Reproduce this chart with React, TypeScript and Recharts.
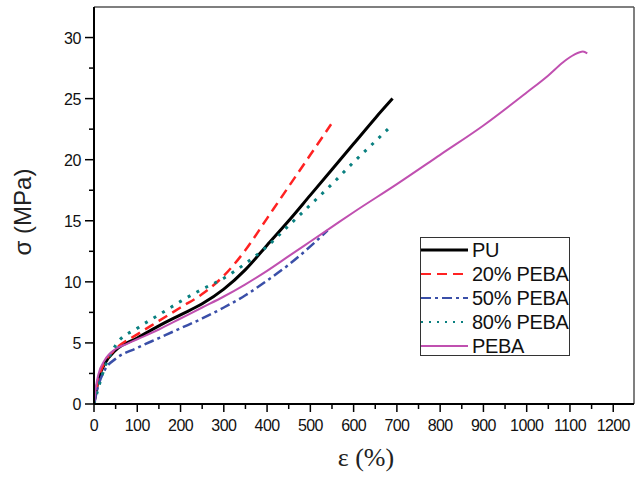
import { LineChart, Line, XAxis, YAxis, Legend, ReferenceLine } from 'recharts';

// stress-strain curves (strain %, stress MPa)
const puStrain = [0, 10, 25, 50, 100, 150, 200, 250, 300, 350, 400, 450, 500, 550, 600, 650, 690];
const puStress = [0, 2.0, 3.3, 4.4, 5.4, 6.4, 7.3, 8.2, 9.4, 11.0, 13.0, 15.0, 17.1, 19.2, 21.3, 23.4, 25.0];

const p20Strain = [0, 10, 25, 50, 100, 150, 200, 250, 300, 350, 400, 450, 500, 548];
const p20Stress = [0, 2.0, 3.4, 4.5, 5.7, 6.8, 7.9, 9.0, 10.5, 12.6, 15.2, 17.8, 20.4, 22.9];

const p50Strain = [0, 10, 25, 50, 100, 150, 200, 250, 300, 350, 400, 450, 500, 540];
const p50Stress = [0, 1.5, 2.8, 3.7, 4.6, 5.4, 6.2, 7.0, 7.9, 8.9, 10.1, 11.4, 12.9, 14.2];

const p80Strain = [0, 10, 25, 50, 100, 150, 200, 250, 300, 350, 400, 450, 500, 550, 600, 650, 685];
const p80Stress = [0, 1.3, 3.0, 4.8, 6.2, 7.3, 8.4, 9.4, 10.3, 11.5, 12.9, 14.6, 16.3, 18.0, 19.8, 21.5, 22.7];

const pebaStrain = [0, 5, 10, 25, 50, 75, 100, 150, 200, 250, 300, 350, 400, 450, 500, 550, 600, 700, 800, 900, 1000, 1050, 1085, 1110, 1130, 1140];
const pebaStress = [0, 1.5, 2.4, 3.6, 4.5, 4.9, 5.3, 6.1, 7.0, 7.9, 8.8, 9.8, 10.9, 12.1, 13.3, 14.5, 15.7, 18.0, 20.4, 22.8, 25.5, 26.9, 28.0, 28.6, 28.85, 28.7];

const xTicks = [0, 50, 100, 150, 200, 250, 300, 350, 400, 450, 500, 550, 600, 650, 700, 750, 800, 850, 900, 950, 1000, 1050, 1100, 1150, 1200];
const yTicks = [0, 2.5, 5, 7.5, 10, 12.5, 15, 17.5, 20, 22.5, 25, 27.5, 30];
const xMax = 1248;
const yMax = 32.5;

const toPoints = (xs: number[], ys: number[]) => xs.map((x, i) => ({ x, y: ys[i] }));

const series = [
  { name: 'PU', data: toPoints(puStrain, puStress), color: '#000000', width: 3, dash: undefined },
  { name: '20% PEBA', data: toPoints(p20Strain, p20Stress), color: '#ff2222', width: 2.5, dash: '10 6' },
  { name: '50% PEBA', data: toPoints(p50Strain, p50Stress), color: '#3a4fa8', width: 2.5, dash: '10 4 3 4' },
  { name: '80% PEBA', data: toPoints(p80Strain, p80Stress), color: '#0a8080', width: 3, dash: '3 7' },
  { name: 'PEBA', data: toPoints(pebaStrain, pebaStress), color: '#c050b0', width: 2, dash: undefined },
];

const tickFont = { fontFamily: '"Liberation Sans", Arial, sans-serif', fontSize: 16, fill: '#111' };

const XTick = (props: any) => {
  const { x, y, payload } = props;
  const major = payload.value % 100 === 0;
  return (
    <g>
      <line x1={x} x2={x} y1={y} y2={y + (major ? 8 : 5)} stroke="#000" strokeWidth={1.5} />
      {major && (
        <text x={x} y={y + 27} textAnchor="middle" {...tickFont} letterSpacing={-0.6}>
          {payload.value}
        </text>
      )}
    </g>
  );
};

const YTick = (props: any) => {
  const { x, y, payload } = props;
  const major = payload.value % 5 === 0;
  return (
    <g>
      <line x1={x - (major ? 9 : 5)} x2={x} y1={y} y2={y} stroke="#000" strokeWidth={1.5} />
      {major && (
        <text x={x - 13} y={y + 6} textAnchor="end" {...tickFont} letterSpacing={-0.4}>
          {payload.value}
        </text>
      )}
    </g>
  );
};

const LegendBox = () => (
  <div
    style={{
      border: '1px solid #333',
      background: '#fff',
      width: 150,
      height: 119,
      boxSizing: 'border-box',
    }}
  >
    {series.map((s) => (
      <div key={s.name} style={{ display: 'flex', alignItems: 'center', height: 24 }}>
        <svg width={48} height={10} style={{ flex: 'none' }}>
          <line
            x1={0}
            x2={47}
            y1={5}
            y2={5}
            stroke={s.color}
            strokeWidth={s.name === 'PU' ? 3 : 2}
            strokeDasharray={s.name === '80% PEBA' ? '2 6' : s.dash}
          />
        </svg>
        <span
          style={{
            fontFamily: '"Liberation Sans", Arial, sans-serif',
            fontSize: 20,
            letterSpacing: -0.3,
            color: '#111',
            marginLeft: 3,
            lineHeight: '24px',
          }}
        >
          {s.name}
        </span>
      </div>
    ))}
  </div>
);

export default function App() {
  return (
    <div style={{ position: 'absolute', left: 0, top: 0, width: 635, height: 478, background: '#fff' }}>
      <LineChart width={635} height={478} margin={{ top: 7, right: 1, left: 0, bottom: 0 }}>
        <XAxis
          type="number"
          dataKey="x"
          domain={[0, xMax]}
          ticks={xTicks}
          interval={0}
          height={74}
          tickSize={0}
          tickMargin={0}
          tickLine={false}
          tick={<XTick />}
          axisLine={{ stroke: '#000', strokeWidth: 2 }}
          allowDataOverflow
          label={() => (
            <text
              x={366}
              y={466}
              textAnchor="middle"
              fontFamily='"Liberation Serif", "Times New Roman", serif'
              fontSize={26}
              fill="#222"
            >
              ε (%)
            </text>
          )}
        />
        <YAxis
          type="number"
          dataKey="y"
          domain={[0, yMax]}
          ticks={yTicks}
          interval={0}
          width={94}
          tickSize={0}
          tickMargin={0}
          tickLine={false}
          tick={<YTick />}
          axisLine={{ stroke: '#000', strokeWidth: 2 }}
          allowDataOverflow
          label={() => (
            <text
              x={31}
              y={212}
              transform="rotate(-90 31 212)"
              textAnchor="middle"
              fontFamily='"Liberation Sans", Arial, sans-serif'
              fontSize={24}
              fill="#222"
            >
              σ (MPa)
            </text>
          )}
        />
        <ReferenceLine y={yMax} stroke="#555" strokeWidth={1.5} ifOverflow="extendDomain" />
        <ReferenceLine x={xMax} stroke="#555" strokeWidth={1.5} ifOverflow="extendDomain" />
        {series.map((s) => (
          <Line
            key={s.name}
            name={s.name}
            data={s.data}
            dataKey="y"
            type="monotone"
            stroke={s.color}
            strokeWidth={s.width}
            strokeDasharray={s.dash}
            dot={false}
            activeDot={false}
            isAnimationActive={false}
          />
        ))}
        <Legend
          layout="vertical"
          align="center"
          verticalAlign="middle"
          content={<LegendBox />}
          wrapperStyle={{ left: 420, top: 237, width: 150, height: 119 }}
        />
      </LineChart>
    </div>
  );
}
